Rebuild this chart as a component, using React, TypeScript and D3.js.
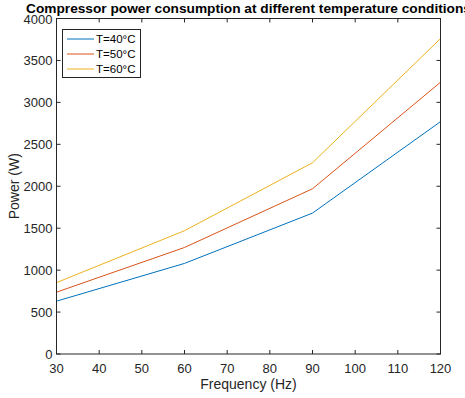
import React from "react";
import * as d3 from "d3";

const freqs = [30, 60, 90, 120];
const series = [
  { name: "T=40°C", color: "#0072BD", values: [630, 1080, 1680, 2770] },
  { name: "T=50°C", color: "#D95319", values: [737, 1270, 1970, 3240] },
  { name: "T=60°C", color: "#EDB120", values: [851, 1470, 2280, 3760] },
];
const xTicks = [30, 40, 50, 60, 70, 80, 90, 100, 110, 120];
const yTicks = [0, 500, 1000, 1500, 2000, 2500, 3000, 3500, 4000];

export default function App() {
  const W = 465, H = 398;
  const L = 56.5, R = 440.5, T = 18.5, B = 354;
  const x = d3.scaleLinear().domain([30, 120]).range([L, R]);
  const y = d3.scaleLinear().domain([0, 4000]).range([B, T]);
  const line = d3.line<number>().x((_, i) => x(freqs[i])).y((d) => y(d));
  const font = "Arial, 'Liberation Sans', sans-serif";
  const tl = 4;
  return (
    <svg width={W} height={H} style={{ position: "absolute", left: 0, top: 0, background: "#fff" }} fontFamily={font}>
      <rect x={0} y={0} width={W} height={H} fill="#fff" />
      {series.map((s) => (
        <path key={s.name} d={line(s.values) || ""} fill="none" stroke={s.color} strokeWidth={1} />
      ))}
      <rect x={L} y={T} width={R - L} height={B - T} fill="none" stroke="#262626" strokeWidth={1} />
      {xTicks.map((t) => (
        <g key={"x" + t}>
          <line x1={x(t)} x2={x(t)} y1={B} y2={B - tl} stroke="#262626" />
          <line x1={x(t)} x2={x(t)} y1={T} y2={T + tl} stroke="#262626" />
          <text x={x(t)} y={B + 18.5} textAnchor="middle" fontSize={13} fill="#262626">{t}</text>
        </g>
      ))}
      {yTicks.map((t) => (
        <g key={"y" + t}>
          <line x1={L} x2={L + tl} y1={y(t)} y2={y(t)} stroke="#262626" />
          <line x1={R} x2={R - tl} y1={y(t)} y2={y(t)} stroke="#262626" />
          <text x={L - 4} y={y(t) + 5} textAnchor="end" fontSize={13} fill="#262626">{t}</text>
        </g>
      ))}
      <text x={(L + R) / 2} y={389} textAnchor="middle" fontSize={14} fill="#262626">Frequency (Hz)</text>
      <text transform={`translate(19, ${(T + B) / 2}) rotate(-90)`} textAnchor="middle" fontSize={14} fill="#262626">Power (W)</text>
      <text x={(L + R) / 2} y={13} textAnchor="middle" fontSize={13.7} fontWeight="bold" fill="#000">Compressor power consumption at different temperature conditions</text>
      <g>
        <rect x={62.5} y={29.5} width={78} height={48} fill="#fff" stroke="#262626" strokeWidth={1} />
        {series.map((s, i) => (
          <g key={"lg" + s.name}>
            <line x1={67} x2={94} y1={39 + i * 15} y2={39 + i * 15} stroke={s.color} />
            <text x={96} y={43 + i * 15} fontSize={11.5} fill="#000">{s.name}</text>
          </g>
        ))}
      </g>
    </svg>
  );
}
